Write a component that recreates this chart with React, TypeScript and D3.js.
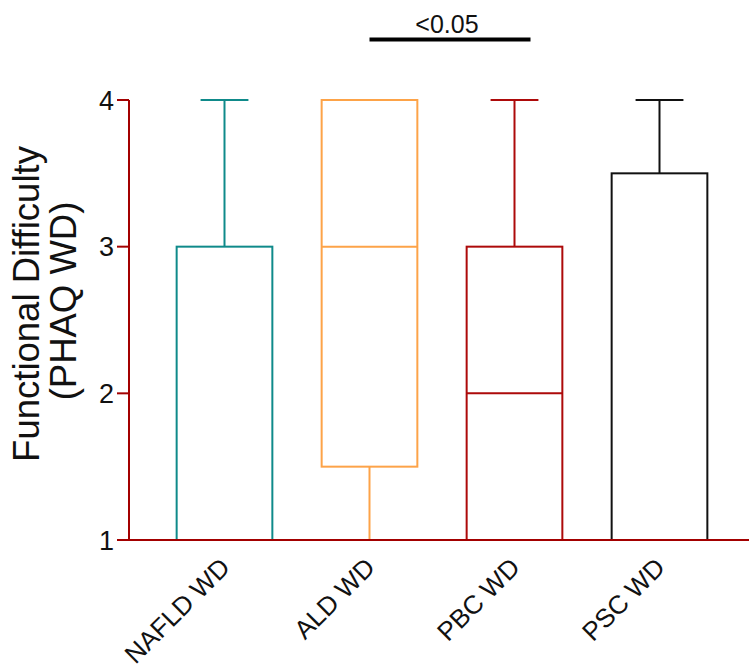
import React from "react";
import * as d3 from "d3";

const categories = ["NAFLD WD", "ALD WD", "PBC WD", "PSC WD"];
const mins = [1, 1, 1, 1];
const q1s = [1, 1.5, 1, 1];
const medians = [1, 3, 2, 1];
const q3s = [3, 4, 3, 3.5];
const maxs = [4, 4, 4, 4];
const colors = ["#0f8a8a", "#fda348", "#ad0a0a", "#111111"];
const yTicks = [1, 2, 3, 4];
const sigLabel = "<0.05";
const sigPair = ["ALD WD", "PBC WD"];

export default function App() {
  const W = 749, H = 669;
  const y = d3.scaleLinear().domain([1, 4]).range([540, 100]);
  const x = d3.scaleBand().domain(categories).range([152, 732]).paddingInner(0.34).paddingOuter(0.17);
  const bw = x.bandwidth();
  const axisColor = "#a30000";
  const font = "Liberation Sans, Arial, sans-serif";
  const sx1 = (x(sigPair[0]) as number) + bw / 2;
  const sx2 = (x(sigPair[1]) as number) + bw / 2 + 16;
  return (
    <svg width={W} height={H} style={{ position: "absolute", left: 0, top: 0, background: "#fff" }} fontFamily={font}>
      {categories.map((c, i) => {
        const x0 = x(c) as number;
        const cx = x0 + bw / 2;
        const col = colors[i];
        return (
          <g key={c} stroke={col} strokeWidth={2} fill="none">
            <line x1={cx} x2={cx} y1={y(q3s[i])} y2={y(maxs[i])} />
            <line x1={cx} x2={cx} y1={y(q1s[i])} y2={y(mins[i])} />
            <line x1={cx - bw / 4} x2={cx + bw / 4} y1={y(maxs[i])} y2={y(maxs[i])} />
            <line x1={cx - bw / 4} x2={cx + bw / 4} y1={y(mins[i])} y2={y(mins[i])} />
            <rect x={x0} y={y(q3s[i])} width={bw} height={y(q1s[i]) - y(q3s[i])} />
            <line x1={x0} x2={x0 + bw} y1={y(medians[i])} y2={y(medians[i])} />
          </g>
        );
      })}
      <line x1={129} x2={129} y1={y(4)} y2={y(1) + 1} stroke={axisColor} strokeWidth={2} />
      <line x1={117} x2={749} y1={y(1)} y2={y(1)} stroke={axisColor} strokeWidth={2} />
      {yTicks.map((t) => (
        <g key={t}>
          <line x1={117} x2={129} y1={y(t)} y2={y(t)} stroke={axisColor} strokeWidth={2} />
          <text x={114} y={y(t)} dy="0.36em" textAnchor="end" fontSize={27} fill="#111">{t}</text>
        </g>
      ))}
      {categories.map((c) => {
        const cx = (x(c) as number) + bw / 2;
        return (
          <text key={c} transform={`translate(${cx + 7},${y(1) + 29}) rotate(-45)`} textAnchor="end" fontSize={26} fill="#111">{c}</text>
        );
      })}
      <text transform={`translate(39,${304}) rotate(-90)`} textAnchor="middle" fontSize={36.5} fill="#111">Functional Difficulty</text>
      <text transform={`translate(76,${301}) rotate(-90)`} textAnchor="middle" fontSize={36.5} fill="#111">(PHAQ WD)</text>
      <line x1={sx1} x2={sx2} y1={39.5} y2={39.5} stroke="#000" strokeWidth={4} />
      <text x={447} y={33} textAnchor="middle" fontSize={25} fill="#111">{sigLabel}</text>
    </svg>
  );
}
